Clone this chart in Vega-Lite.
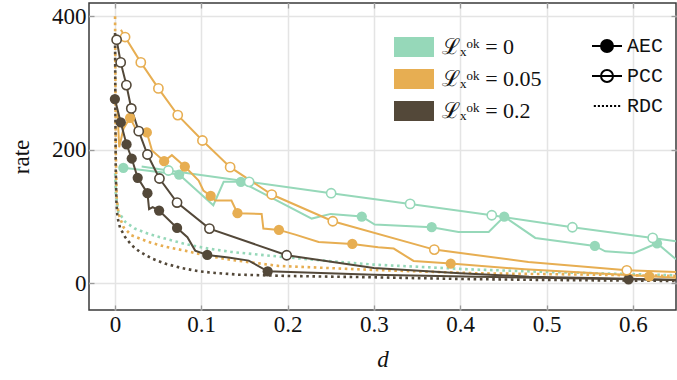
{
  "$schema": "https://vega.github.io/schema/vega-lite/v6.json",
  "width": 587,
  "height": 307,
  "autosize": {"type": "none"},
  "padding": {"left": 89, "top": 3, "right": 1, "bottom": 70},
  "config": {
    "font": "Liberation Serif",
    "view": {"stroke": "#3a3a3a", "strokeWidth": 1.5},
    "axis": {
      "domain": false,
      "gridColor": "#e4e4e4",
      "gridWidth": 1.5,
      "tickColor": "#9a9a9a",
      "tickWidth": 1.3,
      "tickSize": -5,
      "labelFont": "Liberation Serif",
      "labelFontSize": 23,
      "labelColor": "#111",
      "titleFont": "Liberation Serif",
      "titleFontSize": 23,
      "titleFontWeight": "normal",
      "titleColor": "#111"
    }
  },
  "resolve": {"axis": {"x": "independent", "y": "independent"}},
  "datasets": {
    "lines": [
      {"g":"0","m":"AEC","d":0.0098,"r":173,"k":1},
      {"g":"0","m":"AEC","d":0.0744,"r":163,"k":1},
      {"g":"0","m":"AEC","d":0.114,"r":117,"k":0},
      {"g":"0","m":"AEC","d":0.126,"r":152,"k":0},
      {"g":"0","m":"AEC","d":0.146,"r":152,"k":1},
      {"g":"0","m":"AEC","d":0.228,"r":97,"k":0},
      {"g":"0","m":"AEC","d":0.25,"r":104,"k":0},
      {"g":"0","m":"AEC","d":0.286,"r":100,"k":1},
      {"g":"0","m":"AEC","d":0.301,"r":88,"k":0},
      {"g":"0","m":"AEC","d":0.367,"r":84,"k":1},
      {"g":"0","m":"AEC","d":0.398,"r":77,"k":0},
      {"g":"0","m":"AEC","d":0.433,"r":77,"k":0},
      {"g":"0","m":"AEC","d":0.451,"r":100,"k":1},
      {"g":"0","m":"AEC","d":0.487,"r":68,"k":0},
      {"g":"0","m":"AEC","d":0.556,"r":56,"k":1},
      {"g":"0","m":"AEC","d":0.568,"r":48,"k":0},
      {"g":"0","m":"AEC","d":0.601,"r":45,"k":0},
      {"g":"0","m":"AEC","d":0.628,"r":60,"k":1},
      {"g":"0","m":"AEC","d":0.65,"r":36,"k":0},

      {"g":"0","m":"PCC","d":0.031,"r":175,"k":0},
      {"g":"0","m":"PCC","d":0.062,"r":169,"k":1},
      {"g":"0","m":"PCC","d":0.1555,"r":152,"k":1},
      {"g":"0","m":"PCC","d":0.2505,"r":135,"k":1},
      {"g":"0","m":"PCC","d":0.342,"r":119,"k":1},
      {"g":"0","m":"PCC","d":0.4366,"r":102,"k":1},
      {"g":"0","m":"PCC","d":0.53,"r":84,"k":1},
      {"g":"0","m":"PCC","d":0.623,"r":68,"k":1},
      {"g":"0","m":"PCC","d":0.65,"r":63,"k":0},

      {"g":"0","m":"RDC","d":0.0003,"r":165,"k":0},
      {"g":"0","m":"RDC","d":0.001,"r":135,"k":0},
      {"g":"0","m":"RDC","d":0.004,"r":107,"k":0},
      {"g":"0","m":"RDC","d":0.012,"r":92,"k":0},
      {"g":"0","m":"RDC","d":0.023,"r":82,"k":0},
      {"g":"0","m":"RDC","d":0.039,"r":74,"k":0},
      {"g":"0","m":"RDC","d":0.058,"r":67,"k":0},
      {"g":"0","m":"RDC","d":0.081,"r":59,"k":0},
      {"g":"0","m":"RDC","d":0.108,"r":52,"k":0},
      {"g":"0","m":"RDC","d":0.135,"r":47,"k":0},
      {"g":"0","m":"RDC","d":0.19,"r":40,"k":0},
      {"g":"0","m":"RDC","d":0.25,"r":33,"k":0},
      {"g":"0","m":"RDC","d":0.3,"r":28,"k":0},
      {"g":"0","m":"RDC","d":0.41,"r":21,"k":0},
      {"g":"0","m":"RDC","d":0.5,"r":17,"k":0},
      {"g":"0","m":"RDC","d":0.65,"r":12,"k":0},

      {"g":"0.05","m":"AEC","d":0.003,"r":258,"k":0},
      {"g":"0.05","m":"AEC","d":0.005,"r":204,"k":0},
      {"g":"0.05","m":"AEC","d":0.01,"r":232,"k":0},
      {"g":"0.05","m":"AEC","d":0.0176,"r":248,"k":1},
      {"g":"0.05","m":"AEC","d":0.025,"r":229,"k":0},
      {"g":"0.05","m":"AEC","d":0.037,"r":226,"k":1},
      {"g":"0.05","m":"AEC","d":0.043,"r":199,"k":0},
      {"g":"0.05","m":"AEC","d":0.057,"r":183,"k":1},
      {"g":"0.05","m":"AEC","d":0.066,"r":192,"k":0},
      {"g":"0.05","m":"AEC","d":0.081,"r":175,"k":1},
      {"g":"0.05","m":"AEC","d":0.097,"r":154,"k":0},
      {"g":"0.05","m":"AEC","d":0.1025,"r":139,"k":0},
      {"g":"0.05","m":"AEC","d":0.111,"r":131,"k":1},
      {"g":"0.05","m":"AEC","d":0.116,"r":124,"k":0},
      {"g":"0.05","m":"AEC","d":0.135,"r":124,"k":0},
      {"g":"0.05","m":"AEC","d":0.142,"r":105,"k":1},
      {"g":"0.05","m":"AEC","d":0.17,"r":104,"k":0},
      {"g":"0.05","m":"AEC","d":0.172,"r":82,"k":0},
      {"g":"0.05","m":"AEC","d":0.19,"r":80,"k":1},
      {"g":"0.05","m":"AEC","d":0.209,"r":73,"k":0},
      {"g":"0.05","m":"AEC","d":0.236,"r":62,"k":0},
      {"g":"0.05","m":"AEC","d":0.275,"r":59,"k":1},
      {"g":"0.05","m":"AEC","d":0.305,"r":54,"k":0},
      {"g":"0.05","m":"AEC","d":0.323,"r":52,"k":0},
      {"g":"0.05","m":"AEC","d":0.346,"r":33.5,"k":0},
      {"g":"0.05","m":"AEC","d":0.389,"r":29.5,"k":1},
      {"g":"0.05","m":"AEC","d":0.475,"r":21,"k":0},
      {"g":"0.05","m":"AEC","d":0.619,"r":10.5,"k":1},
      {"g":"0.05","m":"AEC","d":0.65,"r":8.5,"k":0},

      {"g":"0.05","m":"PCC","d":0.007,"r":380,"k":0},
      {"g":"0.05","m":"PCC","d":0.0118,"r":369,"k":1},
      {"g":"0.05","m":"PCC","d":0.03,"r":331,"k":1},
      {"g":"0.05","m":"PCC","d":0.0504,"r":292,"k":1},
      {"g":"0.05","m":"PCC","d":0.0728,"r":252,"k":1},
      {"g":"0.05","m":"PCC","d":0.1014,"r":214,"k":1},
      {"g":"0.05","m":"PCC","d":0.1335,"r":174,"k":1},
      {"g":"0.05","m":"PCC","d":0.1817,"r":133,"k":1},
      {"g":"0.05","m":"PCC","d":0.2524,"r":93,"k":1},
      {"g":"0.05","m":"PCC","d":0.37,"r":50.5,"k":1},
      {"g":"0.05","m":"PCC","d":0.479,"r":32,"k":0},
      {"g":"0.05","m":"PCC","d":0.593,"r":19.5,"k":1},
      {"g":"0.05","m":"PCC","d":0.65,"r":17,"k":0},

      {"g":"0.05","m":"RDC","d":0.0002,"r":400,"k":0},
      {"g":"0.05","m":"RDC","d":0.0006,"r":300,"k":0},
      {"g":"0.05","m":"RDC","d":0.001,"r":200,"k":0},
      {"g":"0.05","m":"RDC","d":0.002,"r":130,"k":0},
      {"g":"0.05","m":"RDC","d":0.004,"r":105,"k":0},
      {"g":"0.05","m":"RDC","d":0.01,"r":84,"k":0},
      {"g":"0.05","m":"RDC","d":0.019,"r":72,"k":0},
      {"g":"0.05","m":"RDC","d":0.039,"r":62,"k":0},
      {"g":"0.05","m":"RDC","d":0.058,"r":55,"k":0},
      {"g":"0.05","m":"RDC","d":0.081,"r":49,"k":0},
      {"g":"0.05","m":"RDC","d":0.104,"r":42,"k":0},
      {"g":"0.05","m":"RDC","d":0.135,"r":35,"k":0},
      {"g":"0.05","m":"RDC","d":0.19,"r":26,"k":0},
      {"g":"0.05","m":"RDC","d":0.3,"r":20,"k":0},
      {"g":"0.05","m":"RDC","d":0.42,"r":15,"k":0},
      {"g":"0.05","m":"RDC","d":0.55,"r":13,"k":0},
      {"g":"0.05","m":"RDC","d":0.65,"r":11,"k":0},

      {"g":"0.2","m":"AEC","d":0.0,"r":276,"k":1},
      {"g":"0.2","m":"AEC","d":0.0068,"r":241,"k":1},
      {"g":"0.2","m":"AEC","d":0.0135,"r":208,"k":1},
      {"g":"0.2","m":"AEC","d":0.0195,"r":187,"k":1},
      {"g":"0.2","m":"AEC","d":0.0264,"r":158,"k":1},
      {"g":"0.2","m":"AEC","d":0.0377,"r":135,"k":1},
      {"g":"0.2","m":"AEC","d":0.0396,"r":111,"k":0},
      {"g":"0.2","m":"AEC","d":0.0438,"r":114,"k":0},
      {"g":"0.2","m":"AEC","d":0.0512,"r":109,"k":1},
      {"g":"0.2","m":"AEC","d":0.072,"r":83,"k":1},
      {"g":"0.2","m":"AEC","d":0.084,"r":69,"k":0},
      {"g":"0.2","m":"AEC","d":0.093,"r":49,"k":0},
      {"g":"0.2","m":"AEC","d":0.107,"r":42.5,"k":1},
      {"g":"0.2","m":"AEC","d":0.1315,"r":38.5,"k":0},
      {"g":"0.2","m":"AEC","d":0.155,"r":34,"k":0},
      {"g":"0.2","m":"AEC","d":0.177,"r":18,"k":1},
      {"g":"0.2","m":"AEC","d":0.3,"r":13,"k":0},
      {"g":"0.2","m":"AEC","d":0.42,"r":10,"k":0},
      {"g":"0.2","m":"AEC","d":0.595,"r":6,"k":1},
      {"g":"0.2","m":"AEC","d":0.65,"r":5,"k":0},

      {"g":"0.2","m":"PCC","d":0.002,"r":365,"k":1},
      {"g":"0.2","m":"PCC","d":0.0067,"r":331,"k":1},
      {"g":"0.2","m":"PCC","d":0.0133,"r":297,"k":1},
      {"g":"0.2","m":"PCC","d":0.019,"r":262,"k":1},
      {"g":"0.2","m":"PCC","d":0.0276,"r":228,"k":1},
      {"g":"0.2","m":"PCC","d":0.0377,"r":193,"k":1},
      {"g":"0.2","m":"PCC","d":0.0516,"r":157,"k":1},
      {"g":"0.2","m":"PCC","d":0.072,"r":121,"k":1},
      {"g":"0.2","m":"PCC","d":0.1095,"r":82,"k":1},
      {"g":"0.2","m":"PCC","d":0.199,"r":42,"k":1},
      {"g":"0.2","m":"PCC","d":0.3,"r":23,"k":0},
      {"g":"0.2","m":"PCC","d":0.4,"r":15,"k":0},
      {"g":"0.2","m":"PCC","d":0.48,"r":10,"k":0},
      {"g":"0.2","m":"PCC","d":0.595,"r":7,"k":0},
      {"g":"0.2","m":"PCC","d":0.65,"r":5,"k":0},

      {"g":"0.2","m":"RDC","d":0.0002,"r":375,"k":0},
      {"g":"0.2","m":"RDC","d":0.0006,"r":250,"k":0},
      {"g":"0.2","m":"RDC","d":0.001,"r":170,"k":0},
      {"g":"0.2","m":"RDC","d":0.0018,"r":120,"k":0},
      {"g":"0.2","m":"RDC","d":0.003,"r":99,"k":0},
      {"g":"0.2","m":"RDC","d":0.006,"r":83,"k":0},
      {"g":"0.2","m":"RDC","d":0.012,"r":69,"k":0},
      {"g":"0.2","m":"RDC","d":0.0195,"r":57,"k":0},
      {"g":"0.2","m":"RDC","d":0.029,"r":47,"k":0},
      {"g":"0.2","m":"RDC","d":0.043,"r":37,"k":0},
      {"g":"0.2","m":"RDC","d":0.058,"r":29.5,"k":0},
      {"g":"0.2","m":"RDC","d":0.077,"r":23,"k":0},
      {"g":"0.2","m":"RDC","d":0.097,"r":18,"k":0},
      {"g":"0.2","m":"RDC","d":0.116,"r":15.5,"k":0},
      {"g":"0.2","m":"RDC","d":0.143,"r":13,"k":0},
      {"g":"0.2","m":"RDC","d":0.2,"r":11,"k":0},
      {"g":"0.2","m":"RDC","d":0.3,"r":9,"k":0},
      {"g":"0.2","m":"RDC","d":0.4,"r":6.5,"k":0},
      {"g":"0.2","m":"RDC","d":0.5,"r":5,"k":0},
      {"g":"0.2","m":"RDC","d":0.65,"r":3.5,"k":0}
    ],
    "leg": [
      {"m":"AEC"},
      {"m":"PCC"},
      {"m":"RDC"}
    ]
  },
  "layer": [
    {
      "data": {"name": "lines"},
      "transform": [{"filter": "datum.m === 'RDC'"}],
      "mark": {"type": "line", "strokeWidth": 2.6, "strokeDash": [2.6, 3.6], "clip": true},
      "encoding": {
        "x": {"field": "d", "type": "quantitative", "scale": {"domain": [-0.03, 0.65], "nice": false, "zero": false},
              "axis": {"orient": "bottom", "values": [0, 0.1, 0.2, 0.3, 0.4, 0.5, 0.6], "format": "~g", "title": "d", "titleFontStyle": "italic",
                       "labelPadding": 8, "titlePadding": 12}},
        "y": {"field": "r", "type": "quantitative", "scale": {"domain": [-40, 420], "nice": false, "zero": false},
              "axis": {"orient": "left", "values": [0, 200, 400], "title": "rate", "labelPadding": 8, "titlePadding": 18}},
        "color": {"field": "g", "type": "nominal",
                  "scale": {"domain": ["0", "0.05", "0.2"], "range": ["#96d8b9", "#e7ae52", "#534839"]},
                  "legend": {
                    "orient": "none", "legendX": 314, "legendY": 33, "title": null,
                    "symbolType": "M-2,-1H2V1H-2Z", "symbolSize": 400, "symbolStrokeWidth": 0,
                    "labelFontSize": 22, "labelColor": "#111",
                    "labelExpr": "'ℒₓᵒᵏ = ' + datum.label", "rowPadding": 10, "labelOffset": 17
                  }},
        "detail": {"field": "m"}
      }
    },
    {
      "data": {"name": "lines"},
      "transform": [{"filter": "datum.m !== 'RDC'"}],
      "mark": {"type": "line", "strokeWidth": 2, "clip": true},
      "encoding": {
        "x": {"field": "d", "type": "quantitative",
              "axis": {"orient": "top", "values": [0, 0.1, 0.2, 0.3, 0.4, 0.5, 0.6], "labels": false, "title": null, "grid": false}},
        "y": {"field": "r", "type": "quantitative",
              "axis": {"orient": "right", "values": [0, 200, 400], "labels": false, "title": null, "grid": false}},
        "color": {"field": "g", "type": "nominal"},
        "detail": {"field": "m"}
      }
    },
    {
      "data": {"name": "lines"},
      "transform": [{"filter": "datum.m === 'AEC' && datum.k === 1"}],
      "mark": {"type": "point", "filled": true, "opacity": 1, "size": 105, "shape": "circle", "clip": true},
      "encoding": {
        "x": {"field": "d", "type": "quantitative", "axis": null},
        "y": {"field": "r", "type": "quantitative", "axis": null},
        "color": {"field": "g", "type": "nominal"}
      }
    },
    {
      "data": {"name": "lines"},
      "transform": [{"filter": "datum.m === 'PCC' && datum.k === 1"}],
      "mark": {"type": "point", "filled": false, "fill": "white", "fillOpacity": 1, "opacity": 1, "strokeWidth": 1.6, "size": 85, "shape": "circle", "clip": true},
      "encoding": {
        "x": {"field": "d", "type": "quantitative", "axis": null},
        "y": {"field": "r", "type": "quantitative", "axis": null},
        "color": {"field": "g", "type": "nominal"}
      }
    },
    {
      "data": {"name": "leg"},
      "mark": {"type": "point", "clip": true, "stroke": "black", "strokeWidth": 2, "opacity": 1, "filled": false},
      "encoding": {
        "x": {"datum": -1, "type": "quantitative", "axis": null},
        "y": {"datum": -300, "type": "quantitative", "axis": null},
        "shape": {"field": "m", "type": "nominal",
                  "scale": {"domain": ["AEC", "PCC", "RDC"],
                            "range": [
                              "M-2.5,0H2.5M-1,0A1,1 0 1,0 1,0A1,1 0 1,0 -1,0ZM-0.7,0A0.7,0.7 0 1,0 0.7,0A0.7,0.7 0 1,0 -0.7,0ZM-0.42,0A0.42,0.42 0 1,0 0.42,0A0.42,0.42 0 1,0 -0.42,0ZM-0.15,0A0.15,0.15 0 1,0 0.15,0A0.15,0.15 0 1,0 -0.15,0Z",
                              "M-2.5,0H2.5M-1,0A1,1 0 1,0 1,0A1,1 0 1,0 -1,0Z",
                              "M-2.2,0H-1.85M-1.525,0H-1.175M-0.85,0H-0.5M-0.175,0H0.175M0.5,0H0.85M1.175,0H1.525M1.85,0H2.2"]},
                  "legend": {"orient": "none", "legendX": 508, "legendY": 33, "title": null,
                             "symbolSize": 144, "symbolStrokeWidth": 2, "symbolStrokeColor": "black",
                             "labelFont": "Liberation Mono", "labelFontSize": 20, "labelColor": "#111",
                             "rowPadding": 10, "labelOffset": 10}}
      }
    }
  ]
}
